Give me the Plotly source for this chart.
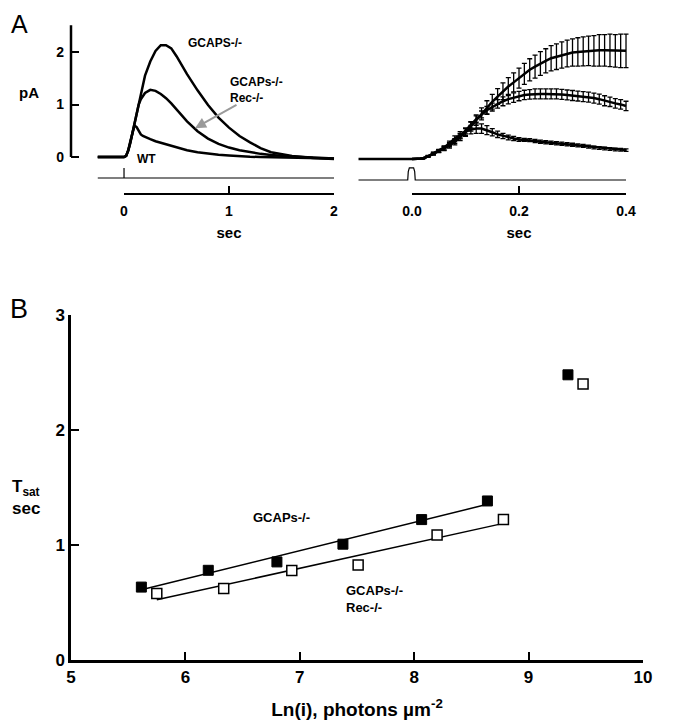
import numpy as np
import plotly.graph_objects as go

# ---------------- Panel A (left): single flash responses, long time base ----------------
tA = [-0.25, -0.1, 0, 0.02, 0.04, 0.06, 0.08, 0.1, 0.12, 0.14, 0.16, 0.18, 0.2, 0.25, 0.3,
      0.35, 0.4, 0.45, 0.5, 0.6, 0.7, 0.8, 0.9, 1.0, 1.1, 1.2, 1.3, 1.4, 1.5, 1.6, 1.8, 2.0]
gcaps_A = [0, 0, 0, 0.02, 0.12, 0.27, 0.45, 0.65, 0.85, 1.04, 1.22, 1.40, 1.55, 1.82, 2.02,
           2.13, 2.13, 2.07, 1.92, 1.58, 1.27, 0.99, 0.75, 0.56, 0.40, 0.28, 0.17, 0.09, 0.05,
           0.02, -0.02, -0.04]
rec_A = [0, 0, 0, 0.02, 0.12, 0.27, 0.46, 0.68, 0.86, 1.0, 1.1, 1.17, 1.22, 1.28, 1.26,
         1.2, 1.12, 1.02, 0.9, 0.68, 0.49, 0.35, 0.25, 0.18, 0.13, 0.09, 0.06, 0.04, 0.02,
         0.01, -0.01, -0.03]
wt_A = [0, 0, 0, 0.02, 0.13, 0.30, 0.48, 0.60, 0.57, 0.49, 0.43, 0.40, 0.38, 0.34, 0.30,
        0.27, 0.24, 0.21, 0.18, 0.13, 0.09, 0.065, 0.045, 0.03, 0.015, 0.005, 0, -0.005, -0.01,
        -0.01, -0.02, -0.03]
stimA_t = [-0.25, 0, 0, 0, 2.0]
stimA_on = [0, 0, 1, 0, 0]

# ---------------- Panel A (right): mean responses with error bars, short time base ----------------
pre_t = [-0.1, -0.05, 0.0]
pre_v = [0, 0, 0]
tR = np.round(np.arange(0, 0.4001, 0.01), 2)
gcaps_R = [0, 0, 0.01, 0.05, 0.10, 0.15, 0.20, 0.26, 0.33, 0.42, 0.51,
           0.62, 0.74, 0.86, 0.98, 1.09, 1.19, 1.29, 1.38, 1.46, 1.54,
           1.62, 1.70, 1.76, 1.82, 1.87, 1.92, 1.95, 1.98, 2.01, 2.03,
           2.04, 2.05, 2.06, 2.06, 2.07, 2.07, 2.07, 2.06, 2.06, 2.06]
gcaps_R_err = [0.005, 0.005, 0.005, 0.02, 0.025, 0.03, 0.04, 0.05, 0.06, 0.07, 0.08,
               0.09, 0.10, 0.115, 0.13, 0.14, 0.15, 0.16, 0.17, 0.18, 0.19,
               0.20, 0.21, 0.22, 0.225, 0.23, 0.24, 0.245, 0.25, 0.255, 0.26,
               0.27, 0.275, 0.28, 0.29, 0.30, 0.30, 0.31, 0.31, 0.32, 0.32]
rec_R = [0, 0, 0.01, 0.05, 0.10, 0.15, 0.20, 0.27, 0.34, 0.43, 0.53,
         0.65, 0.76, 0.85, 0.93, 0.99, 1.05, 1.10, 1.14, 1.17, 1.20,
         1.22, 1.23, 1.24, 1.24, 1.24, 1.24, 1.24, 1.23, 1.22, 1.21,
         1.20, 1.19, 1.18, 1.16, 1.14, 1.11, 1.09, 1.06, 1.04, 1.01]
rec_R_err = [0.005, 0.005, 0.005, 0.015, 0.02, 0.025, 0.03, 0.035, 0.04, 0.045, 0.05,
             0.055, 0.06, 0.065, 0.07, 0.075, 0.08, 0.085, 0.09, 0.09, 0.09,
             0.09, 0.09, 0.095, 0.095, 0.095, 0.095, 0.095, 0.095, 0.095, 0.095,
             0.095, 0.095, 0.095, 0.095, 0.095, 0.095, 0.09, 0.09, 0.09, 0.09]
wt_R = [0, 0, 0.01, 0.05, 0.11, 0.16, 0.22, 0.30, 0.39, 0.46, 0.52,
        0.56, 0.58, 0.58, 0.55, 0.51, 0.47, 0.44, 0.41, 0.39, 0.37,
        0.365, 0.36, 0.345, 0.33, 0.32, 0.31, 0.30, 0.29, 0.28, 0.27,
        0.26, 0.25, 0.235, 0.22, 0.21, 0.20, 0.19, 0.18, 0.175, 0.17]
wt_R_err = [0.005, 0.005, 0.005, 0.01, 0.02, 0.025, 0.03, 0.04, 0.05, 0.06, 0.07,
            0.08, 0.09, 0.09, 0.085, 0.07, 0.06, 0.05, 0.045, 0.04, 0.035,
            0.03, 0.03, 0.03, 0.03, 0.03, 0.03, 0.03, 0.03, 0.03, 0.03,
            0.028, 0.028, 0.028, 0.025, 0.025, 0.025, 0.025, 0.025, 0.025, 0.025]
stimR_t = [-0.1, -0.008, -0.007, -0.005, 0.003, 0.005, 0.006, 0.4]
stimR_on = [0, 0, 0.7, 1, 1, 0.7, 0, 0]

# ---------------- Panel B: Tsat vs Ln(i) ----------------
ln_i_ko = [5.615, 6.20, 6.80, 7.377, 8.065, 8.64, 9.344]
tsat_ko = [0.634, 0.78, 0.853, 1.007, 1.221, 1.383, 2.48]
ln_i_dko = [5.75, 6.335, 6.93, 7.51, 8.2, 8.78, 9.476]
tsat_dko = [0.579, 0.622, 0.778, 0.827, 1.088, 1.221, 2.40]
n_fit = 6  # last (saturating) point excluded from linear fit

# page body has an 8px margin: figure occupies window pixels 8..690 x 8..720
OFF = 8
W, H = 690 - OFF, 720 - OFF
def fx(p):
    return (p - OFF) / W
def fy(p):
    return (720 - p) / H

FAM = "Liberation Sans Narrow, Liberation Sans, Arial, sans-serif"
REG = "Liberation Sans, Arial, sans-serif"
def bold(size):
    return dict(family=FAM, size=size, color="black", weight="bold")

fig = go.Figure()

LW = 2.5
for y in (gcaps_A, rec_A, wt_A):
    fig.add_trace(go.Scatter(x=tA, y=y, mode="lines", line=dict(color="black", width=LW),
                             xaxis="x", yaxis="y", hoverinfo="skip"))
fig.add_trace(go.Scatter(x=stimA_t, y=[-0.4 + 0.19 * v for v in stimA_on], mode="lines",
                         line=dict(color="black", width=1.2), xaxis="x", yaxis="y", hoverinfo="skip"))
fig.add_trace(go.Scatter(x=[0, 2], y=[0, 0], mode="markers", marker=dict(opacity=0),
                         xaxis="x4", yaxis="y", hoverinfo="skip"))

fig.add_trace(go.Scatter(x=pre_t, y=pre_v, mode="lines", line=dict(color="black", width=LW),
                         xaxis="x2", yaxis="y2", hoverinfo="skip"))
for y, e in ((gcaps_R, gcaps_R_err), (rec_R, rec_R_err), (wt_R, wt_R_err)):
    fig.add_trace(go.Scatter(x=tR, y=y, mode="lines", line=dict(color="black", width=LW),
                             error_y=dict(type="data", array=e, color="black", thickness=1.3, width=2.5),
                             xaxis="x2", yaxis="y2", hoverinfo="skip"))
fig.add_trace(go.Scatter(x=stimR_t, y=[-0.4 + 0.23 * v for v in stimR_on], mode="lines",
                         line=dict(color="black", width=1.2), xaxis="x2", yaxis="y2", hoverinfo="skip"))
fig.add_trace(go.Scatter(x=[0, 0.4], y=[0, 0], mode="markers", marker=dict(opacity=0),
                         xaxis="x5", yaxis="y2", hoverinfo="skip"))

for xs, ys in ((ln_i_ko, tsat_ko), (ln_i_dko, tsat_dko)):
    k, b = np.polyfit(xs[:n_fit], ys[:n_fit], 1)
    xe = [min(xs[:n_fit]), max(xs[:n_fit])]
    fig.add_trace(go.Scatter(x=xe, y=[k * v + b for v in xe], mode="lines",
                             line=dict(color="black", width=1.5), xaxis="x3", yaxis="y3",
                             hoverinfo="skip"))
fig.add_trace(go.Scatter(x=ln_i_ko, y=tsat_ko, mode="markers",
                         marker=dict(symbol="square", size=10, color="black",
                                     line=dict(color="black", width=1)),
                         xaxis="x3", yaxis="y3", hoverinfo="skip"))
fig.add_trace(go.Scatter(x=ln_i_dko, y=tsat_dko, mode="markers",
                         marker=dict(symbol="square", size=10, color="white",
                                     line=dict(color="black", width=1.5)),
                         xaxis="x3", yaxis="y3", hoverinfo="skip"))

hidden = dict(visible=False, showgrid=False, zeroline=False, automargin=False)
bracket = dict(anchor="free", position=fy(194), showline=True, linewidth=2, linecolor="black",
               ticks="inside", ticklen=7, tickwidth=2, tickcolor="black", showgrid=False,
               zeroline=False, tickfont=bold(14), ticklabelstandoff=4, automargin=False,
               title=dict(text="sec", font=bold(15), standoff=9))

fig.update_layout(
    width=W, height=H, margin=dict(l=0, r=0, t=0, b=0, autoexpand=False),
    paper_bgcolor="white", plot_bgcolor="rgba(0,0,0,0)", showlegend=False,
    xaxis=dict(domain=[fx(71), fx(336)], range=[-0.505, 2.019], **hidden),
    yaxis=dict(domain=[fy(185), fy(18)], range=[-0.5333, 2.648], anchor="x",
               showline=False, showgrid=False, zeroline=False, tickvals=[0, 1, 2],
               ticks="inside", ticklen=8, tickwidth=2, tickcolor="black", tickfont=bold(14),
               ticklabelstandoff=6, automargin=False),
    xaxis2=dict(domain=[fx(356), fx(632)], range=[-0.1047, 0.4112], **hidden),
    yaxis2=dict(domain=[fy(185), fy(18)], range=[-0.495, 2.686], anchor="x2", **hidden),
    xaxis4=dict(domain=[fx(124), fx(334)], range=[0, 2], tickvals=[0, 1, 2], **bracket),
    xaxis5=dict(domain=[fx(412), fx(626)], range=[0, 0.4], tickvals=[0, 0.2, 0.4],
                ticktext=["0.0", "0.2", "0.4"], **bracket),
    xaxis3=dict(domain=[fx(71), fx(643)], range=[5, 10], anchor="y3", showline=True,
                linewidth=2.5, linecolor="black", ticks="inside", ticklen=8, tickwidth=2,
                tickcolor="black", tickvals=[5, 6, 7, 8, 9, 10], showgrid=False, zeroline=False,
                tickfont=bold(17), ticklabelstandoff=0, automargin=False,
                title=dict(text="Ln(i), photons \u00b5m<sup>-2</sup>", font=bold(19), standoff=21)),
    yaxis3=dict(domain=[fy(660), fy(315)], range=[0, 3], anchor="x3", showline=True,
                linewidth=2.5, linecolor="black", ticks="inside", ticklen=8, tickwidth=2,
                tickcolor="black", tickvals=[0, 1, 2, 3], showgrid=False, zeroline=False,
                tickfont=bold(17), automargin=False),
)

fig.add_shape(type="line", xref="x domain", yref="y", x0=0, x1=0, y0=0, y1=2.51,
              line=dict(color="black", width=2.5))

ann = [
    dict(text="A", x=fx(19), y=fy(24), xref="paper", yref="paper",
         font=dict(family=REG, size=25, color="black")),
    dict(text="B", x=fx(19), y=fy(309), xref="paper", yref="paper",
         font=dict(family=REG, size=27, color="black")),
    dict(text="pA", x=fx(29), y=fy(93), xref="paper", yref="paper", font=bold(15)),
    dict(text="GCAPS-/-", x=0.867, y=2.17, xref="x", yref="y", font=bold(12)),
    dict(text="GCAPs-/-<br>Rec-/-", x=0.99, y=1.28, xref="x", yref="y", xanchor="left",
         align="left", font=bold(12)),
    dict(text="WT", x=0.21, y=-0.04, xref="x", yref="y", font=bold(12)),
    dict(text="GCAPs-/-", x=0.413, y=2.02, xref="x2", yref="y2", xanchor="left", font=bold(12)),
    dict(text="GCAPs-/-<br>Rec-/-", x=0.413, y=0.914, xref="x2", yref="y2", xanchor="left",
         align="left", font=bold(12)),
    dict(text="WT", x=0.413, y=0.133, xref="x2", yref="y2", xanchor="left", font=bold(12)),
    dict(text="GCAPs-/-", x=6.84, y=1.24, xref="x3", yref="y3", font=bold(13)),
    dict(text="GCAPs-/-<br>Rec-/-", x=7.39, y=0.53, xref="x3", yref="y3", xanchor="left",
         align="left", font=bold(13)),
    dict(text="T<sub>sat</sub><br>sec", x=fx(10), y=fy(497), xref="paper", yref="paper",
         xanchor="left", align="left", font=bold(17)),
]
for a in ann:
    a.setdefault("showarrow", False)
    a.setdefault("xanchor", "center")
    a.setdefault("yanchor", "middle")
    fig.add_annotation(**a)

fig.add_annotation(text="", x=0.676, y=0.55, xref="x", yref="y", ax=43, ay=-24,
                   showarrow=True, arrowhead=2, arrowsize=1.1, arrowwidth=2,
                   arrowcolor="#9a9a9a")

fig.write_html("out.html")
